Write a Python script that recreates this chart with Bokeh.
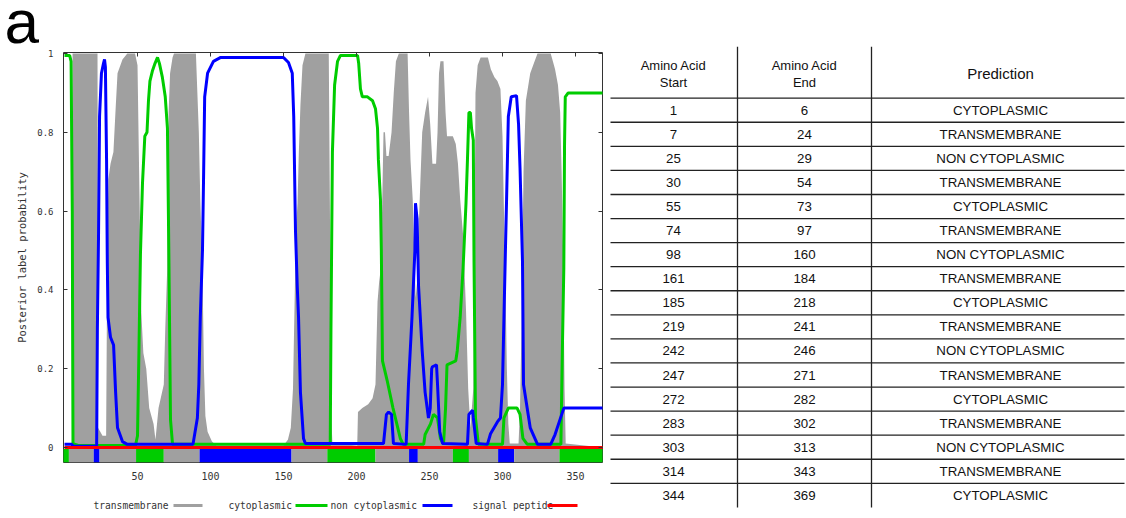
from bokeh.plotting import figure
from bokeh.models import Range1d, LinearAxis, FixedTicker
from bokeh.layouts import row, column
from bokeh.embed import file_html
from bokeh.resources import INLINE
from bokeh.core.properties import value

# ---------------- data ----------------
# transmembrane posterior (gray area): (residue, probability)
tm_points = [(0, 0), (5.2, 0), (5.5, 1.0), (22.6, 1.0), (23.0, 0.05), (26, 0.03), (28.5, 0.03),
             (29.3, 0.5), (30, 0.68), (31.5, 0.72), (33.5, 0.75), (35, 0.86), (36.3, 0.95),
             (39.7, 0.985), (43, 1.0), (48.3, 1.0), (50, 0.97), (51.5, 0.6), (52.5, 0.35),
             (54, 0.24), (56, 0.2), (58, 0.1), (61, 0.06), (62.3, 0.02), (64.4, 0.1), (68, 0.16),
             (69, 0.3), (70.3, 0.45), (71.3, 0.85), (72.3, 0.95), (74, 0.99), (75, 1.0), (90, 1.0),
             (91, 0.9), (92, 0.8), (93, 0.63), (94.5, 0.45), (95.5, 0.2), (96.5, 0.08), (98, 0.04),
             (101, 0.015), (104, 0.005), (150, 0.005), (153, 0.02), (155, 0.05), (156.5, 0.15),
             (157.5, 0.35), (158.5, 0.55), (159.6, 0.62), (160.5, 0.75), (161.6, 0.87), (163, 0.97),
             (165, 1.0), (181, 1.0), (181.8, 0.6), (182.5, 0.1), (183.5, 0.01), (200.5, 0.005),
             (201, 0.09), (204, 0.1), (208, 0.11), (211, 0.125), (213, 0.16), (214.4, 0.37),
             (215.5, 0.42), (216.5, 0.45), (217.5, 0.6), (218.5, 0.8), (219.5, 0.8), (220.5, 0.74),
             (222, 0.74), (224, 0.8), (225.5, 0.9), (227, 0.98), (229, 1.0), (235, 1.0), (236, 0.85),
             (237, 0.73), (238.5, 0.63), (240.5, 0.38), (241.5, 0.42), (242.5, 0.55), (244, 0.7),
             (245, 0.8), (247, 0.85), (249, 0.89), (250.5, 0.82), (252, 0.72), (254.5, 0.72),
             (255.5, 0.8), (256.5, 0.95), (257.5, 0.98), (259.6, 0.98), (261, 0.85), (262, 0.79),
             (266, 0.79), (268, 0.77), (269.5, 0.72), (271, 0.63), (273, 0.54), (275, 0.35),
             (276.5, 0.15), (278, 0.05), (280, 0.15), (280.8, 0.5), (281.5, 0.9), (283, 0.97),
             (285, 0.99), (290, 0.99), (292, 0.96), (294.5, 0.94), (296.5, 0.93), (298.6, 0.91),
             (300, 0.79), (301, 0.6), (302, 0.42), (303, 0.2), (304, 0.06), (305, 0.01), (311, 0.01),
             (312, 0.1), (313, 0.3), (313.7, 0.5), (314.4, 0.7), (316, 0.88), (319, 0.95), (322, 0.98),
             (324, 1.0), (333, 1.0), (334.5, 0.98), (336, 0.96), (338, 0.92), (339.5, 0.85),
             (340.5, 0.7), (341.5, 0.5), (342.5, 0.15), (343.3, 0.01), (369, 0.0)]

# cytoplasmic posterior (green line)
cyto_points = [(0, 0.995), (3.5, 0.995), (4.5, 0.98), (5.3, 0.6), (5.8, 0.01), (10, 0.005),
               (48.6, 0.005), (50, 0.03), (51, 0.25), (52, 0.49), (53.4, 0.67), (55, 0.79),
               (56.5, 0.80), (57.5, 0.88), (58.5, 0.93), (60.3, 0.957), (62, 0.975), (63.7, 0.99),
               (65, 0.975), (67, 0.94), (69, 0.89), (70.5, 0.81), (71.5, 0.48), (72.6, 0.07),
               (74, 0.008), (182, 0.008), (182.5, 0.3), (183.5, 0.75), (185, 0.92), (187, 0.98),
               (189, 0.995), (200.7, 0.995), (201.5, 0.975), (202.7, 0.91), (204, 0.89),
               (207.5, 0.89), (211, 0.88), (213, 0.86), (214.4, 0.81), (215, 0.73), (216.4, 0.63),
               (217, 0.5), (217.8, 0.22), (221, 0.17), (225, 0.1), (230, 0.023), (232, 0.008),
               (246, 0.008), (247, 0.033), (250.7, 0.06), (252.7, 0.084), (255.5, 0.075),
               (257.5, 0.023), (259.6, 0.008), (261, 0.1), (262, 0.21), (268, 0.22), (269, 0.245),
               (271, 0.33), (273, 0.455), (275, 0.62), (276, 0.73), (277, 0.85), (278, 0.85),
               (278.8, 0.81), (280, 0.78), (280.5, 0.47), (281.5, 0.075), (283.5, 0.008),
               (300, 0.008), (301, 0.075), (304, 0.1), (310, 0.1), (312, 0.084), (314, 0.023),
               (317, 0.008), (340, 0.008), (341, 0.245), (342, 0.455), (342.5, 0.77), (343, 0.89),
               (345, 0.90), (369, 0.90)]

# non cytoplasmic posterior (blue line)
noncyto_points = [(0, 0.008), (5, 0.008), (6, 0.003), (22, 0.003), (22.5, 0.3), (23.3, 0.54),
                  (24, 0.84), (25.3, 0.95), (26.7, 0.975), (27.4, 0.985), (28, 0.965), (28.8, 0.73),
                  (29.3, 0.47), (29.8, 0.33), (31.5, 0.28), (33.6, 0.26), (35, 0.14), (36.3, 0.05),
                  (39.7, 0.015), (43, 0.008), (88, 0.008), (91, 0.075), (92, 0.16), (93, 0.33),
                  (94.5, 0.5), (95.3, 0.7), (96, 0.89), (98, 0.95), (102, 0.98), (107, 0.99),
                  (150, 0.99), (153.4, 0.977), (156, 0.95), (157, 0.84), (158.2, 0.55),
                  (159.4, 0.41), (160.3, 0.33), (161.6, 0.14), (163.7, 0.023), (165, 0.01),
                  (218.5, 0.01), (220.5, 0.084), (222, 0.09), (224, 0.084), (225.3, 0.01),
                  (234, 0.008), (235.6, 0.16), (238, 0.33), (240, 0.5), (240.4, 0.62), (241.5, 0.58),
                  (242.5, 0.41), (245, 0.245), (247, 0.14), (249.3, 0.075), (250.5, 0.1),
                  (251.5, 0.2), (252, 0.205), (254.8, 0.21), (255.5, 0.16), (257, 0.04), (259, 0.01),
                  (276, 0.008), (277, 0.084), (279.5, 0.095), (280, 0.075), (282, 0.01),
                  (289.7, 0.008), (291.8, 0.035), (296.5, 0.065), (298.6, 0.075), (300, 0.16),
                  (301, 0.33), (302, 0.5), (302.8, 0.63), (304, 0.84), (306, 0.89), (309.6, 0.893),
                  (311, 0.82), (312, 0.71), (313.7, 0.47), (314.4, 0.16), (319, 0.05), (324, 0.008),
                  (333, 0.008), (336, 0.033), (342, 0.1), (369, 0.1)]

# signal peptide posterior (red line)
signal_points = [(0, 0.0), (369, 0.0)]

# predicted topology strip under the plot
strip_start = [-5, 3, 20, 24, 49, 68, 92.5, 155.5, 180, 213, 236, 242, 266, 277, 297, 308, 339]
strip_end = [3, 20, 24, 49, 68, 92.5, 155.5, 180, 213, 236, 242, 266, 277, 297, 308, 339, 372]
strip_kind = ["cyto", "tm", "noncyto", "tm", "cyto", "tm", "noncyto", "tm", "cyto", "tm",
              "noncyto", "tm", "cyto", "tm", "noncyto", "tm", "cyto"]

xtick_values = [50, 100, 150, 200, 250, 300, 350]
xtick_labels = ["50", "100", "150", "200", "250", "300", "350"]
ytick_values = [0, 0.2, 0.4, 0.6, 0.8, 1]
ytick_labels = ["0", "0.2", "0.4", "0.6", "0.8", "1"]

legend_labels = ["transmembrane", "cytoplasmic", "non cytoplasmic", "signal peptide"]

table_start = [1, 7, 25, 30, 55, 74, 98, 161, 185, 219, 242, 247, 272, 283, 303, 314, 344]
table_end = [6, 24, 29, 54, 73, 97, 160, 184, 218, 241, 246, 271, 282, 302, 313, 343, 369]
table_pred = ["CYTOPLASMIC", "TRANSMEMBRANE", "NON CYTOPLASMIC", "TRANSMEMBRANE", "CYTOPLASMIC",
              "TRANSMEMBRANE", "NON CYTOPLASMIC", "TRANSMEMBRANE", "CYTOPLASMIC", "TRANSMEMBRANE",
              "NON CYTOPLASMIC", "TRANSMEMBRANE", "CYTOPLASMIC", "TRANSMEMBRANE", "NON CYTOPLASMIC",
              "TRANSMEMBRANE", "CYTOPLASMIC"]

# ---------------- styles ----------------
GRAY = "#a0a0a0"
GREEN = "#00cc00"
BLUE = "#0000ff"
RED = "#ff0000"
AXC = "#333333"
MONO = "DejaVu Sans Mono"
SANS = "Liberation Sans"
kind_color = {"cyto": GREEN, "tm": GRAY, "noncyto": BLUE}

def xs(points):
    return [a for a, b in points]

def ys(points):
    return [b for a, b in points]

# ---------------- header strip with the panel letter ----------------
head = figure(width=1126, height=46, x_range=Range1d(0, 1126), y_range=Range1d(46, 0),
              x_axis_type=None, y_axis_type=None, output_backend="svg", toolbar_location=None,
              min_border=0, tools="")
head.outline_line_color = None
head.text(x=[4], y=[21], text=["a"], text_font=value(SANS), text_font_size="62px",
          text_align="left", text_baseline="middle", text_color="#000000")

# ---------------- main chart ----------------
p = figure(width=606, height=444, x_range=Range1d(-0.7, 368.5), y_range=Range1d(-0.038, 1.0025),
           output_backend="svg", toolbar_location=None, tools="",
           min_border_left=63, min_border_right=4, min_border_top=6, min_border_bottom=28)
p.grid.visible = False
p.outline_line_color = AXC
p.outline_line_width = 1
p.background_fill_color = "white"

p.varea(x=xs(tm_points), y1=0, y2=ys(tm_points), fill_color=GRAY)
p.quad(left=strip_start, right=strip_end, bottom=-0.038, top=-0.004,
       fill_color=[kind_color[k] for k in strip_kind], line_color=None)
p.line(xs(cyto_points), ys(cyto_points), line_color=GREEN, line_width=3)
p.line(xs(noncyto_points), ys(noncyto_points), line_color=BLUE, line_width=3)
p.line(xs(signal_points), ys(signal_points), line_color=RED, line_width=3)

xa = p.xaxis[0]
xa.ticker = FixedTicker(ticks=xtick_values)
xa.major_label_overrides = dict(zip(xtick_values, xtick_labels))
xa.major_tick_in = 0
xa.major_tick_out = 0
xa.minor_tick_line_color = None
xa.axis_line_color = None
xa.major_label_standoff = 9
xa.major_label_text_font = MONO
xa.major_label_text_font_size = "10px"
xa.major_label_text_color = AXC

ya = p.yaxis[0]
ya.ticker = FixedTicker(ticks=ytick_values)
ya.major_label_overrides = dict(zip(ytick_values, ytick_labels))
ya.major_tick_in = 4
ya.major_tick_out = 0
ya.major_tick_line_color = AXC
ya.minor_tick_line_color = None
ya.axis_line_color = None
ya.major_label_standoff = 10
ya.major_label_text_font = MONO
ya.major_label_text_font_size = "9px"
ya.major_label_text_color = AXC
ya.axis_label = "Posterior label probability"
ya.axis_label_text_font = MONO
ya.axis_label_text_font_size = "10.5px"
ya.axis_label_text_font_style = "normal"
ya.axis_label_text_color = AXC
ya.axis_label_standoff = 6

top_ax = LinearAxis(ticker=FixedTicker(ticks=xtick_values), major_tick_in=4, major_tick_out=0,
                    major_tick_line_color=AXC, minor_tick_line_color=None, axis_line_color=None,
                    major_label_overrides={v: "" for v in xtick_values},
                    major_label_text_font_size="1px", major_label_standoff=0)
p.add_layout(top_ax, "above")
right_ax = LinearAxis(ticker=FixedTicker(ticks=ytick_values), major_tick_in=4, major_tick_out=0,
                      major_tick_line_color=AXC, minor_tick_line_color=None, axis_line_color=None,
                      major_label_overrides={v: "" for v in ytick_values},
                      major_label_text_font_size="1px", major_label_standoff=0)
p.add_layout(right_ax, "right")

# ---------------- legend strip (frame aligned with the chart frame) ----------------
leg = figure(width=606, height=28, x_range=Range1d(63, 602), y_range=Range1d(28, 0),
             x_axis_type=None, y_axis_type=None, output_backend="svg", toolbar_location=None,
             min_border_left=63, min_border_right=4, min_border_top=0, min_border_bottom=0,
             tools="")
leg.outline_line_color = None
leg_text_x = [93, 228, 330, 472]
leg_line_x0 = [173, 295, 422, 547]
leg_line_x1 = [202, 327, 452, 577]
leg.text(x=leg_text_x, y=[15] * 4, text=legend_labels, text_font=value(MONO),
         text_font_size="9.6px", text_align="left", text_baseline="middle", text_color=AXC)
leg.segment(x0=leg_line_x0, y0=[15] * 4, x1=leg_line_x1, y1=[15] * 4,
            line_color=[GRAY, GREEN, BLUE, RED], line_width=3)

# ---------------- table ----------------
tab = figure(width=520, height=472, x_range=Range1d(606, 1126), y_range=Range1d(518, 46),
             x_axis_type=None, y_axis_type=None, output_backend="svg", toolbar_location=None,
             min_border=0, tools="")
tab.outline_line_color = None
first_line = 97.7
row_h = 24.07
n = len(table_start)
hy = [first_line + row_h * k for k in range(n)]
tab.segment(x0=[610] * n, y0=hy, x1=[1124] * n, y1=hy, line_color="#222222", line_width=1.3)
tab.segment(x0=[737, 871], y0=[46, 46], x1=[737, 871], y1=[507, 507],
            line_color="#222222", line_width=1.3)
cy = [first_line + row_h * (k + 0.5) for k in range(n)]
col_x = [673, 804, 1000]
for cx, vals in zip(col_x, [[str(v) for v in table_start], [str(v) for v in table_end], table_pred]):
    tab.text(x=[cx] * n, y=cy, text=vals, text_font=value(SANS), text_font_size="13.3px",
             text_align="center", text_baseline="middle", text_color="#111111")
tab.text(x=[673, 673, 804, 804], y=[65, 81.7, 65, 81.7],
         text=["Amino Acid", "Start", "Amino Acid", "End"], text_font=value(SANS),
         text_font_size="13px", text_align="center", text_baseline="middle", text_color="#111111")
tab.text(x=[1000], y=[72.5], text=["Prediction"], text_font=value(SANS), text_font_size="15px",
         text_align="center", text_baseline="middle", text_color="#111111")

layout = column(head, row(column(p, leg), tab))
open("out.html", "w").write(file_html(layout, INLINE))
